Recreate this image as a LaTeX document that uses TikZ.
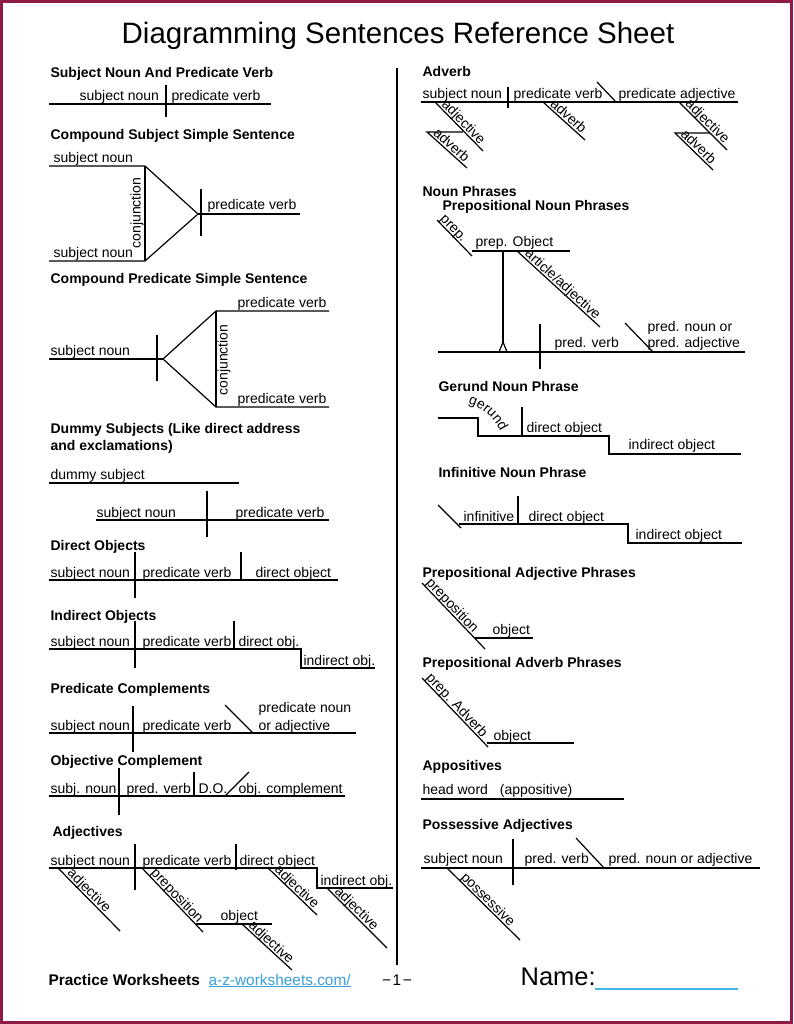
\documentclass[tikz,border=0pt]{standalone}
\usepackage{fontspec}
\setmainfont{Liberation Sans}
\usetikzlibrary{decorations.text}
\definecolor{framered}{HTML}{8E1B47}
\definecolor{linkblue}{HTML}{3A9FD8}
\definecolor{nameblue}{HTML}{45B5E6}
\begin{document}
\begin{tikzpicture}[x=1pt,y=-1pt,line width=1.2pt,
  lbl/.style={anchor=base west,inner sep=0pt,font=\fontsize{14}{16}\selectfont},
  hd/.style={lbl,font=\bfseries\fontsize{14}{16}\selectfont},
  slp/.style={sloped,above,inner sep=1.5pt,text depth=0pt,font=\fontsize{14}{16}\selectfont}]
\useasboundingbox (0,0) rectangle (793,1024);
\draw[line width=3pt,framered] (1.5,1.5) rectangle (791.5,1022.5);

\node[anchor=base,inner sep=0pt,font=\fontsize{29.5}{34}\selectfont] (title) at (398,44) {Diagramming Sentences Reference Sheet};
\draw (397,68) -- (397,965);

% headings
\foreach \n/\x/\y/\t in {h1/50/78/Subject Noun And Predicate Verb,
    h2/50/140/Compound Subject Simple Sentence,
    h3/50/283/Compound Predicate Simple Sentence,
    h4/50/433/Dummy Subjects (Like direct address,
    h4b/50/450/and exclamations),
    h5/50/550/Direct Objects,
    h6/50/620/Indirect Objects,
    h7/50/693/Predicate Complements,
    h8/50/765/Objective Complement,
    h9/52/836/Adjectives,
    h10/422/77/Adverb,
    h11/422/197/Noun Phrases,
    h11b/442/211/Prepositional Noun Phrases,
    h12/438/391/Gerund Noun Phrase,
    h13/438/477/Infinitive Noun Phrase,
    h14/422/577/Prepositional Adjective Phrases,
    h15/422/667/Prepositional Adverb Phrases,
    h16/422/770/Appositives,
    h17/422/829/Possessive Adjectives}
  \node[hd] (\n) at (\x,\y) {\t};

% subject noun and predicate verb
\draw (49,104) -- (271,104);
\draw (166,85) -- (166,117);
\node[lbl] (sn1) at (79,101) {subject noun};
\node[lbl] (pv1) at (171,101) {predicate verb};

% compound subject
\draw (49,166) -- (145,166) -- (198,214) -- (145,261) -- (49,261);
\draw (145,166) -- (145,261);
\draw (198,214) -- (300,214);
\draw (201,189) -- (201,236);
\node[lbl] (sn2a) at (53,163) {subject noun};
\node[lbl] (sn2b) at (53,258) {subject noun};
\node[lbl,anchor=center,rotate=90] (cj2) at (137,213) {conjunction};
\node[lbl] (pv2) at (207,210) {predicate verb};

% compound predicate
\draw (49,359) -- (163,359);
\draw (157,335) -- (157,381);
\draw (329,311) -- (216,311) -- (163,359) -- (216,407) -- (329,407);
\draw (216,311) -- (216,407);
\node[lbl] (sn3) at (50,355) {subject noun};
\node[lbl] (pv3a) at (237,307) {predicate verb};
\node[lbl] (pv3b) at (237,403) {predicate verb};
\node[lbl,anchor=center,rotate=90] (cj3) at (224,360) {conjunction};

% dummy subjects
\draw (49,483) -- (239,483);
\node[lbl] (ds4) at (50,479) {dummy subject};
\draw (96,520) -- (329,520);
\draw (207,491) -- (207,537);
\node[lbl] (sn4) at (96,517) {subject noun};
\node[lbl] (pv4) at (235,517) {predicate verb};

% direct objects
\draw (49,580) -- (338,580);
\draw (135,552) -- (135,598);
\draw (241,552) -- (241,580);
\node[lbl] (sn5) at (50,577) {subject noun};
\node[lbl] (pv5) at (142,577) {predicate verb};
\node[lbl] (do5) at (255,577) {direct object};

% indirect objects
\draw (49,649) -- (301,649) -- (301,668) -- (375,668);
\draw (135,621) -- (135,668);
\draw (234,621) -- (234,649);
\node[lbl] (sn6) at (50,646) {subject noun};
\node[lbl] (pv6) at (142,646) {predicate verb};
\node[lbl] (do6) at (238,646) {direct obj.};
\node[lbl] (io6) at (303,665) {indirect obj.};

% predicate complements
\draw (49,733) -- (356,733);
\draw (133,706) -- (133,752);
\draw (225,705) -- (253,733);
\node[lbl] (sn7) at (50,730) {subject noun};
\node[lbl] (pv7) at (142,730) {predicate verb};
\node[lbl] (pn7) at (258,712) {predicate noun};
\node[lbl] (pa7) at (258,730) {or adjective};

% objective complement
\draw (49,796) -- (345,796);
\draw (119,768) -- (119,815);
\draw (194,772) -- (194,796);
\draw (225,796) -- (249,772);
\node[lbl] (sn8) at (50,793) {subj. noun};
\node[lbl] (pv8) at (126,793) {pred. verb};
\node[lbl] (do8) at (198,793) {D.O.};
\node[lbl] (oc8) at (238,793) {obj. complement};

% adjectives
\draw (49,868) -- (317,868) -- (317,888) -- (393,888);
\draw (135,844) -- (135,890);
\draw (236,844) -- (236,870);
\node[lbl] (sn9) at (50,865) {subject noun};
\node[lbl] (pv9) at (142,865) {predicate verb};
\node[lbl] (do9) at (239,865) {direct object};
\node[lbl] (io9) at (320,885) {indirect obj.};
\draw (58,868) -- (120,931) node[slp,pos=0.43] (aj9a) {adjective};
\draw (142,868) -- (203,932) node[slp,pos=0.5] (pp9) {preposition};
\draw (196,924) -- (272,924);
\node[lbl] (ob9) at (220,920) {object};
\draw (242,924) -- (292,970) node[slp,pos=0.5] (aj9b) {adjective};
\draw (268,868) -- (317,915) node[slp,pos=0.5] (aj9c) {adjective};
\draw (327,888) -- (387,948) node[slp,pos=0.42] (aj9d) {adjective};

% footer
\node[lbl,font=\bfseries\fontsize{15.4}{18}\selectfont] (pw) at (48,985) {Practice Worksheets};
\node[lbl,font=\fontsize{15.4}{18}\selectfont,text=linkblue] (url) at (208,985) {\underline{a-z-worksheets.com/}};
\node[lbl,anchor=base,font=\fontsize{15.4}{18}\selectfont] (pg) at (397,985) {−\kern1.5pt1\kern1.5pt−};
\node[lbl,font=\fontsize{25.5}{30}\selectfont] (nm) at (520,985) {Name:};
\draw[nameblue,line width=1.5pt] (595,989) -- (738,989);

% adverb
\draw (421,102) -- (738,102);
\draw (508,87) -- (508,108);
\draw (597,82) -- (616,102);
\node[lbl] (sn10) at (422,99) {subject noun};
\node[lbl] (pv10) at (513,99) {predicate verb};
\node[lbl] (pa10) at (618,99) {predicate adjective};
\draw (435,102) -- (483,151) node[slp,pos=0.5] (aj10a) {adjective};
\draw (463,132) -- (427,132) -- (467,168) node[slp,pos=0.5] (av10a) {adverb};
\draw (543,102) -- (585,140) node[slp,pos=0.5] (av10b) {adverb};
\draw (679,102) -- (727,150) node[slp,pos=0.5] (aj10b) {adjective};
\draw (710,133) -- (675,133) -- (713,170) node[slp,pos=0.5] (av10c) {adverb};

% prepositional noun phrases
\draw (437,220) -- (472,256) node[slp,pos=0.35] (pp11) {prep.};
\draw (472,251) -- (570,251);
\node[lbl] (po11) at (475,247) {prep. Object};
\draw (503,251) -- (503,342);
\draw (499,352) -- (503,342) -- (507,352);
\draw (517,251) -- (600,327) node[slp,pos=0.5] (aa11) {article/adjective};
\draw (438,352) -- (745,352);
\draw (540,324) -- (540,369);
\draw (625,323) -- (653,352);
\node[lbl] (pv11) at (554,347) {pred. verb};
\node[lbl] (pn11) at (647,331) {pred. noun or};
\node[lbl] (pa11) at (647,347) {pred. adjective};

% gerund
\draw (438,418) -- (478,418) -- (478,436) -- (609,436) -- (609,454) -- (741,454);
\draw (522,407) -- (522,436);
\path[decorate,decoration={text along path,text align=center,
    text={|\fontsize{14}{16}\selectfont|gerund}}] (461,402) to[bend left=30] (503,438);
\node[lbl] (do12) at (526,432) {direct object};
\node[lbl] (io12) at (628,449) {indirect object};

% infinitive
\draw (438,505) -- (461,528);
\draw (459,524) -- (628,524) -- (628,543) -- (742,543);
\draw (518,496) -- (518,524);
\node[lbl] (in13) at (463,521) {infinitive};
\node[lbl] (do13) at (528,521) {direct object};
\node[lbl] (io13) at (635,539) {indirect object};

% prepositional adjective phrases
\draw (422,583) -- (485,649) node[slp,pos=0.41] (pp14) {preposition};
\draw (475,638) -- (533,638);
\node[lbl] (ob14) at (492,634) {object};

% prepositional adverb phrases
\draw (422,678) -- (488,747) node[slp,pos=0.46] (pp15) {prep. Adverb};
\draw (487,743) -- (574,743);
\node[lbl] (ob15) at (493,740) {object};

% appositives
\node[lbl] (hw16) at (422,794) {head word\hspace{8pt} (appositive)};
\draw (421,799) -- (624,799);

% possessive adjectives
\draw (421,868) -- (760,868);
\draw (513,839) -- (513,885);
\draw (576,838) -- (604,868);
\node[lbl] (sn17) at (423,863) {subject noun};
\node[lbl] (pv17) at (524,863) {pred. verb};
\node[lbl] (pn17) at (608,863) {pred. noun or adjective};
\draw (447,868) -- (520,940) node[slp,pos=0.5] (ps17) {possessive};
\end{tikzpicture}
\end{document}
